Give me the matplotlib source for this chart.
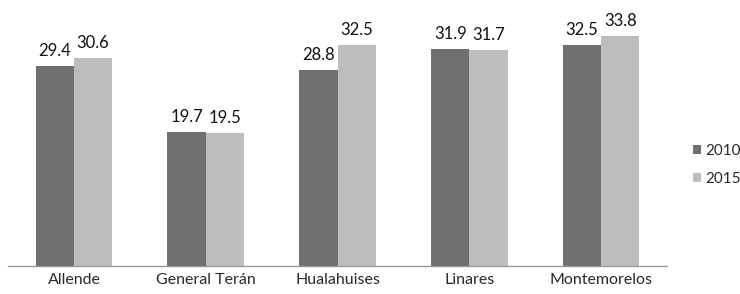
import matplotlib.pyplot as plt
import numpy as np

# Data
categories = ["Allende", "General Terán", "Hualahuises", "Linares", "Montemorelos"]
years = ["2010", "2015"]
values_2010 = [29.4, 19.7, 28.8, 31.9, 32.5]
values_2015 = [30.6, 19.5, 32.5, 31.7, 33.8]

colors = {"2010": "#6f6f6f", "2015": "#bdbdbd"}

plt.rcParams['font.family'] = ['Lato', 'DejaVu Sans']

fig = plt.figure(figsize=(7.40, 2.94), dpi=100)
ax = fig.add_axes([8 / 740, 28 / 294, 659 / 740, 256 / 294])

x = np.arange(len(categories))
width = 0.29

bars_a = ax.bar(x - width / 2, values_2010, width, color=colors["2010"], label="2010")
bars_b = ax.bar(x + width / 2, values_2015, width, color=colors["2015"], label="2015")

for bars, vals in [(bars_a, values_2010), (bars_b, values_2015)]:
    for b, v in zip(bars, vals):
        ax.annotate(f"{v:.1f}", (b.get_x() + b.get_width() / 2, v),
                    xytext=(0, 5), textcoords="offset points",
                    ha="center", va="bottom", fontsize=12, color="#111111")

ax.set_xlim(-0.5, len(categories) - 0.5)
ax.set_ylim(0, 37.6)
ax.set_xticks(x)
ax.set_xticklabels(categories, fontsize=11.5, color="#2a2a2a")
ax.tick_params(axis="x", length=0, pad=5)
ax.set_yticks([])

for side in ["top", "right", "left"]:
    ax.spines[side].set_visible(False)
ax.spines["bottom"].set_color("#9a9a9a")
ax.spines["bottom"].set_linestyle((0, (1, 1)))
ax.spines["bottom"].set_linewidth(1)

leg = fig.legend(handles=[bars_a, bars_b], labels=years, loc="center left",
                 bbox_to_anchor=(682 / 740, 1 - 165 / 294), frameon=False,
                 fontsize=11, handlelength=0.55, handleheight=0.55,
                 handletextpad=0.25, labelspacing=0.9, borderpad=0.2)
for t in leg.get_texts():
    t.set_color("#2a2a2a")

fig.savefig("out.png", dpi=100)
